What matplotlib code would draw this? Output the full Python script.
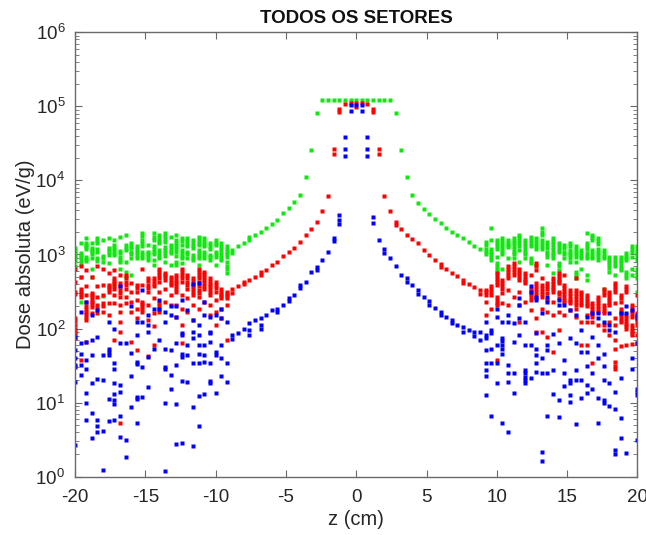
import numpy as np
import matplotlib
matplotlib.use("Agg")
import matplotlib.pyplot as plt
from matplotlib.ticker import LogLocator, FixedLocator

plt.rcParams['font.family'] = ['Liberation Sans', 'DejaVu Sans']
plt.rcParams['axes.unicode_minus'] = False
plt.rcParams['mathtext.fontset'] = 'custom'
plt.rcParams['mathtext.rm'] = 'Liberation Sans'

# depth grid (cm): columns every 0.4 cm
z_left_tail = np.round(np.arange(-20.0, -9.19, 0.4), 1)
z_center = np.round(np.arange(-8.8, 8.81, 0.4), 1)
z_right_tail = np.round(np.arange(9.2, 20.01, 0.4), 1)

# dose values, stored as log10(eV/g); one list per depth column
green_left = [
    [3.09, 3.05, 3.02, 2.98, 2.95, 2.91, 2.85], [3.15, 3.02, 2.99, 2.96, 2.93, 2.88, 2.70, 2.36],
    [3.22, 3.16, 3.13, 3.10, 3.07, 2.97, 2.94, 2.91], [3.15, 3.09, 3.06, 3.03, 3.00, 2.95, 2.81, 2.70],
    [3.22, 3.18, 3.15, 3.08, 3.04, 2.95, 2.91], [3.20, 2.98, 2.95, 2.90, 2.44],
    [3.22, 3.09, 3.06, 3.03, 2.99, 2.88], [3.20, 3.13, 3.09, 3.06, 3.02, 2.99, 2.59],
    [3.24, 3.05, 3.02, 2.96, 2.93, 2.90, 2.81], [3.26, 3.13, 3.09, 3.06, 2.90, 2.77, 2.70],
    [3.15, 3.12, 3.09, 3.04, 3.00, 2.95, 2.72], [3.11, 3.07, 3.04, 2.99, 2.95],
    [3.29, 3.25, 3.20, 3.16, 3.11, 3.04, 2.99, 2.95], [3.13, 3.04, 3.00, 2.96, 2.92],
    [3.29, 3.24, 3.20, 3.11, 3.07, 3.03, 3.00, 2.92, 2.86], [3.26, 3.22, 3.18, 3.15, 3.06, 3.02, 2.98, 2.95],
    [3.29, 3.25, 3.21, 3.17, 3.10, 3.06, 3.02, 2.98, 2.90], [3.24, 3.13, 3.09, 3.05, 3.02, 2.86],
    [3.26, 3.20, 3.16, 3.12, 3.08, 3.04, 2.98, 2.90, 2.86], [3.22, 3.18, 3.13, 3.06, 3.02, 2.98, 2.95, 2.88],
    [3.22, 3.18, 3.14, 3.11, 3.04, 3.00, 2.95], [3.20, 3.16, 3.12, 3.09, 2.99, 2.95, 2.92],
    [3.24, 3.20, 3.16, 3.13, 3.06, 3.02, 2.98, 2.95, 2.86], [3.22, 3.18, 3.14, 3.11, 3.04, 2.99, 2.95],
    [3.15, 3.11, 3.07, 2.99, 2.96, 2.93], [3.20, 3.16, 3.13, 3.04, 3.00, 2.97, 2.86],
    [3.15, 3.11, 3.07, 3.04, 2.99, 2.95, 2.92], [3.11, 3.07, 3.03, 3.00, 2.96, 2.90, 2.85, 2.81, 2.75],
]
red_left = [
    [2.81, 2.63, 2.50, 2.47, 2.14, 2.10, 2.05, 2.00, 1.96, 1.93, 1.87], [2.84, 2.70, 2.54, 2.50, 2.46, 2.43, 1.58],
    [2.79, 2.57, 2.45, 2.36, 2.31, 2.27, 2.23, 2.20, 2.16, 2.12, 1.82], [2.70, 2.48, 2.45, 2.42, 2.39, 2.36, 2.33, 2.29, 2.21],
    [2.84, 2.57, 2.43, 2.32, 2.28, 2.21], [2.81, 2.59, 2.45, 2.34, 2.30, 2.23],
    [2.75, 2.59, 2.56, 2.54, 2.50, 2.34, 2.18], [2.79, 2.68, 2.64, 2.61, 2.57, 2.54, 2.45, 2.34, 1.85],
    [2.72, 2.61, 2.57, 2.52, 2.48, 2.43, 2.32, 2.23, 2.09, 1.96, 0.72], [2.72, 2.68, 2.63, 2.59, 2.54, 2.43, 2.34],
    [2.61, 2.50, 2.36, 2.23, 1.82], [2.59, 2.55, 2.50, 2.39, 2.27, 2.14, 1.71],
    [2.81, 2.59, 2.36, 2.33, 2.30, 2.26, 2.23], [2.68, 2.64, 2.59, 2.55, 2.50, 2.32, 2.12, 1.63],
    [2.68, 2.64, 2.60, 2.57, 2.41, 2.21, 2.03, 1.78], [2.81, 2.77, 2.72, 2.68, 2.63, 2.50, 2.34, 2.30, 2.26, 2.23],
    [2.75, 2.72, 2.69, 2.66, 2.54, 2.36], [2.70, 2.66, 2.62, 2.59, 2.45, 2.32],
    [2.72, 2.68, 2.64, 2.61, 2.57, 2.54, 2.50, 2.32, 2.16], [2.81, 2.77, 2.72, 2.68, 2.63, 2.45, 2.27, 2.05, 1.81],
    [2.72, 2.68, 2.63, 2.59, 2.54, 2.41, 2.23], [2.68, 2.64, 2.60, 2.57, 2.53, 2.49, 2.45, 2.32, 2.12],
    [2.81, 2.77, 2.72, 2.68, 2.63, 2.58, 2.52, 2.48, 2.43, 2.27], [2.77, 2.73, 2.69, 2.66, 2.62, 2.58, 2.54, 2.36],
    [2.68, 2.64, 2.60, 2.57, 2.53, 2.49, 2.45, 2.32, 2.18], [2.63, 2.59, 2.55, 2.50, 2.39, 2.23, 2.05],
    [2.54, 2.50, 2.47, 2.44, 2.41, 2.27, 2.14], [2.50, 2.47, 2.44, 2.41, 2.32, 1.85],
]
blue_left = [
    [1.89, 1.71, 1.60, 1.51, 1.48, 1.28, 0.43], [2.23, 1.80, 1.66, 1.51, 1.37],
    [2.36, 1.82, 1.58, 1.45, 1.13, 0.99, 0.77], [2.18, 1.84, 1.64, 1.27, 0.86, 0.52],
    [2.25, 1.89, 1.32, 0.77, 0.68, 0.60], [1.64, 1.30, 0.62, 0.09],
    [2.09, 1.73, 1.69, 1.64, 1.05, 0.75], [2.00, 1.53, 1.45, 1.26, 1.12, 1.04, 0.98, 0.76],
    [2.57, 1.80, 1.24, 1.15, 0.82, 0.53], [1.80, 0.49, 0.26],
    [2.30, 1.67, 1.36, 0.94], [2.09, 1.91, 1.55, 1.52, 1.08, 1.05, 0.73],
    [2.52, 2.09, 1.48, 1.07], [2.18, 2.05, 1.96, 1.61, 1.21],
    [2.27, 1.73], [2.39, 2.27, 1.85],
    [2.23, 2.09, 1.72, 1.48, 1.45, 1.00, 0.08], [2.30, 2.18, 1.71, 1.37, 1.18],
    [2.30, 2.16, 1.80, 1.51, 0.98, 0.44], [2.39, 1.94, 1.91, 1.66, 1.62, 1.29, 0.46],
    [2.25, 1.78, 1.64, 1.28], [2.60, 2.12, 1.96, 1.87, 1.53, 0.94, 0.41],
    [2.62, 2.05, 1.91, 1.78, 1.66, 1.54, 1.09, 0.68], [2.36, 2.18, 1.78, 1.64, 1.55, 1.12],
    [2.16, 1.96, 1.94, 1.82, 1.54, 1.29, 1.26], [2.18, 1.69, 1.64, 1.13],
    [2.27, 2.14, 1.78, 1.60, 1.36], [2.09, 1.54, 1.28],
]

green_center = [
    [3.06, 3.02], [3.11], [3.15], [3.23, 3.19], [3.26], [3.31], [3.36], [3.41],
    [3.47], [3.56], [3.63], [3.71], [3.80], [4.04], [4.41], [4.91],
    [5.09], [5.09], [5.09], [5.09], [5.09], [5.09], [5.09], [5.09], [5.09],
    [5.09], [5.09], [5.09], [5.09],
    [4.91], [4.41], [4.04], [3.80], [3.70], [3.62], [3.55], [3.48], [3.42],
    [3.36], [3.31], [3.26], [3.22], [3.17], [3.12], [3.07],
]
red_center = [
    [2.54, 2.48], [2.57], [2.63, 2.60], [2.66], [2.70], [2.76, 2.72], [2.79], [2.86],
    [2.90], [2.98], [3.04], [3.09], [3.17], [3.26], [3.35], [3.44],
    [3.59], [3.79], [4.43, 4.36], [4.97, 4.93], [5.03], [5.05], [5.05, 4.99], [5.05],
    [5.03], [4.97, 4.93], [4.43, 4.36], [3.79], [3.59],
    [3.44, 3.40], [3.34], [3.26], [3.21], [3.15], [3.06], [2.99], [2.93], [2.87, 2.83],
    [2.80], [2.75], [2.71], [2.66, 2.62], [2.60], [2.56], [2.52, 2.47],
]
blue_center = [
    [1.91, 1.86], [1.94], [2.00], [2.07, 1.98, 1.91], [2.12], [2.14, 2.05, 2.00], [2.18], [2.25],
    [2.26, 2.22], [2.32], [2.41, 2.37], [2.45], [2.59, 2.55], [2.63], [2.76], [2.83, 2.79],
    [2.93], [3.04], [3.22, 3.18], [3.53, 3.46, 3.41], [4.58, 4.43, 4.33], [5.02, 4.94], [5.02],
    [5.02, 4.94], [4.58, 4.43, 4.33], [3.50, 3.43], [3.20], [3.08, 3.02], [2.95],
    [2.84], [2.72], [2.68, 2.63], [2.59], [2.52, 2.47], [2.43], [2.37, 2.32], [2.28],
    [2.23, 2.18], [2.16], [2.12, 2.07], [2.05], [2.02, 1.96], [1.98], [1.95, 1.90], [1.96, 1.85],
]

green_right = [
    [3.17, 3.13, 3.08, 3.04, 3.00], [3.36, 3.20, 3.08, 3.04, 3.00, 2.96, 2.93],
    [3.20, 3.16, 3.12, 3.08, 2.97, 2.88, 2.84, 2.80, 2.77], [3.22, 3.18, 3.14, 3.11, 3.07, 3.03, 3.00, 2.81],
    [3.20, 3.16, 3.13, 3.10, 2.95], [3.22, 3.18, 3.15, 3.11, 3.07, 3.04, 3.00, 2.95],
    [3.27, 3.23, 3.19, 3.15, 3.11, 3.06, 2.90], [3.20, 3.16, 3.12, 3.08, 3.04, 3.00, 2.95],
    [3.24, 3.20, 3.15, 3.11, 2.95, 2.91, 2.88], [3.22, 3.18, 3.14, 3.11, 3.08, 2.86],
    [3.36, 3.31, 3.27, 3.20, 3.16, 3.12, 3.08], [3.17, 3.13, 3.09, 3.04, 3.00, 2.97, 2.86],
    [3.22, 3.18, 3.14, 3.10, 3.06, 3.02, 2.99, 2.95, 2.75], [3.15, 3.11, 3.08, 3.04, 2.88, 2.84, 2.79],
    [3.13, 3.09, 3.04, 3.00, 2.95], [3.15, 3.11, 3.06, 3.02, 2.99, 2.95, 2.90],
    [3.11, 3.07, 3.03, 3.00, 2.96, 2.90, 2.77, 2.72, 2.68], [3.06, 3.02, 2.98, 2.95, 2.81],
    [3.29, 3.15, 3.11, 3.07, 3.02, 2.98, 2.95, 2.72, 2.66], [3.27, 3.23, 3.20, 3.06, 3.02, 2.98, 2.95],
    [3.22, 3.18, 3.14, 3.08, 3.04, 3.00, 2.96, 2.92], [3.06, 3.02, 2.98, 2.95, 2.54],
    [2.97, 2.93, 2.90, 2.86, 2.82, 2.77], [2.97, 2.93, 2.89, 2.84, 2.72],
    [2.97, 2.93, 2.90, 2.86, 2.82, 2.79], [3.02, 2.98, 2.95, 2.92, 2.77, 2.72, 2.68],
    [3.11, 3.07, 3.03, 2.97, 2.81, 2.72], [3.11, 3.07, 3.03, 3.00, 2.96, 2.92, 2.81, 2.76, 2.72, 2.68, 2.50],
]
red_right = [
    [2.52, 2.49, 2.45, 2.36, 2.18], [2.57, 2.53, 2.49, 2.45, 2.27],
    [2.75, 2.71, 2.67, 2.63, 2.59, 2.43, 2.39, 2.35, 2.32, 1.57], [2.66, 2.62, 2.58, 2.54, 2.48, 2.34],
    [2.84, 2.80, 2.76, 2.72, 2.68, 2.52, 2.32], [2.88, 2.84, 2.80, 2.76, 2.72, 2.43],
    [2.81, 2.77, 2.73, 2.69, 2.66, 2.50, 2.32, 2.09], [2.75, 2.71, 2.67, 2.64, 2.61, 2.36],
    [2.72, 2.54, 2.50, 2.46, 2.43, 2.39, 2.25], [2.88, 2.84, 2.79, 2.61, 2.57, 2.53, 2.49, 2.45, 2.41, 2.14, 1.96],
    [2.68, 2.59, 2.55, 2.51, 2.47, 2.43, 2.27, 1.96], [2.61, 2.57, 2.53, 2.48, 2.39, 2.23, 1.89],
    [2.68, 2.64, 2.60, 2.56, 2.53, 2.50, 2.36, 2.18, 1.69], [2.75, 2.71, 2.67, 2.64, 2.61, 2.50, 2.46, 2.41, 2.23, 1.98],
    [2.72, 2.59, 2.55, 2.51, 2.47, 2.43, 2.39, 2.36, 2.18], [2.52, 2.48, 2.44, 2.40, 2.37, 2.34, 2.25],
    [2.68, 2.52, 2.48, 2.44, 2.40, 2.36, 2.32, 2.27, 2.16], [2.50, 2.46, 2.42, 2.38, 2.35, 2.32, 2.09, 1.78],
    [2.45, 2.41, 2.37, 2.33, 2.30, 2.18, 2.09, 1.78], [2.34, 2.30, 2.26, 2.22, 2.19, 2.16, 2.09, 1.53],
    [2.43, 2.39, 2.35, 2.31, 2.27, 2.23, 2.05], [2.54, 2.50, 2.45, 2.32, 2.28, 2.24, 2.21, 2.05, 1.98],
    [2.50, 2.46, 2.42, 2.38, 2.35, 2.32, 2.09, 1.91], [2.61, 2.57, 2.53, 2.50, 2.34, 2.14, 2.05, 1.85, 1.73, 1.55, 1.50, 1.45],
    [2.45, 2.41, 2.36, 2.27, 2.23, 2.19, 2.15, 2.12, 2.09, 1.76], [2.57, 2.53, 2.50, 2.18, 2.14, 2.10, 2.06, 2.03, 2.00, 1.78],
    [2.32, 2.28, 2.24, 2.20, 2.16, 2.05, 2.01, 1.97, 1.94, 1.91, 1.79], [2.45, 2.21, 2.17, 2.13, 2.09, 2.05, 1.91, 1.80],
]
blue_right = [
    [2.09, 1.91, 1.87, 1.71, 1.53, 1.44, 1.36, 1.10], [1.98, 1.94, 1.73, 1.53, 0.82],
    [2.27, 2.16, 1.78, 1.53, 1.27], [2.09, 1.87, 1.83, 1.78, 1.73, 1.66, 0.72],
    [2.18, 2.09, 1.51, 1.40, 1.28, 0.61], [2.07, 1.82, 1.40, 1.13],
    [2.41, 2.32, 2.14, 1.91], [2.09, 1.78, 1.44, 1.40, 1.35, 1.30, 1.26],
    [2.57, 2.50, 1.78, 1.33], [2.43, 2.39, 1.94, 1.73, 1.64, 1.53, 1.42],
    [2.21, 1.60, 1.40, 0.33, 0.21], [2.43, 2.36, 1.78, 1.71, 1.40, 0.82],
    [1.92, 1.44, 1.12], [2.39, 2.32, 1.80, 1.03, 0.80],
    [2.32, 1.58, 1.40, 1.22], [2.25, 1.87, 1.31, 1.26, 1.10, 1.01],
    [2.18, 1.80, 1.44, 1.31, 0.71], [1.98, 1.69, 1.31, 1.06],
    [2.16, 1.69, 1.49, 1.24, 1.13], [2.21, 1.89, 1.40, 1.18],
    [2.21, 2.14, 1.78, 1.60, 1.06, 0.72], [2.09, 1.66, 1.49, 1.31, 1.03, 0.99],
    [2.21, 2.05, 1.98, 1.26, 0.95], [1.96, 1.15, 0.92, 0.36, 0.30],
    [2.21, 1.33, 0.79, 0.52], [2.30, 2.21, 0.32],
    [2.25, 1.60, 1.45], [2.18, 2.14, 1.80, 1.19, 1.14, 1.10, 0.49],
]

series = [
    ("#12e612", [(z_left_tail, green_left), (z_center, green_center), (z_right_tail, green_right)]),
    ("#ff0000", [(z_left_tail, red_left), (z_center, red_center), (z_right_tail, red_right)]),
    ("#0000ff", [(z_left_tail, blue_left), (z_center, blue_center), (z_right_tail, blue_right)]),
]

fig = plt.figure(figsize=(6.46, 5.35), dpi=100)
ax = fig.add_axes([0.1161, 0.1090, 0.8707, 0.8306])

for color, parts in series:
    xs, ys = [], []
    for zs, cols in parts:
        for z, vals in zip(zs, cols):
            for v in vals:
                xs.append(z)
                ys.append(10.0 ** v)
    ax.plot(xs, ys, linestyle='none', marker='s', markersize=2.7,
            markerfacecolor=color, markeredgecolor='none')

ax.set_yscale('log')
ax.set_xlim(-20, 20)
ax.set_ylim(1, 1e6)
ax.xaxis.set_major_locator(FixedLocator([-20, -15, -10, -5, 0, 5, 10, 15, 20]))
ax.yaxis.set_major_locator(LogLocator(base=10, numticks=10))
ax.yaxis.set_minor_locator(LogLocator(base=10, subs=np.arange(2, 10), numticks=20))

axis_color = '#6a6a6a'
for s in ax.spines.values():
    s.set_color(axis_color)
    s.set_linewidth(1.0)
ax.tick_params(which='both', direction='in', top=True, right=True,
               color=axis_color, labelcolor='#262626', labelsize=13.5)
ax.tick_params(which='major', length=5)
ax.tick_params(which='minor', length=3)
ax.tick_params(axis='x', pad=9)
ax.tick_params(axis='y', pad=7)

ax.set_xlabel('z (cm)', fontsize=14.5, color='#262626', labelpad=3)
ax.set_ylabel('Dose absoluta (eV/g)', fontsize=14.5, color='#262626', labelpad=0)
ax.set_title('TODOS OS SETORES', fontsize=13.5, fontweight='bold', color='#111111', pad=7)

fig.savefig('out.png', dpi=100)
